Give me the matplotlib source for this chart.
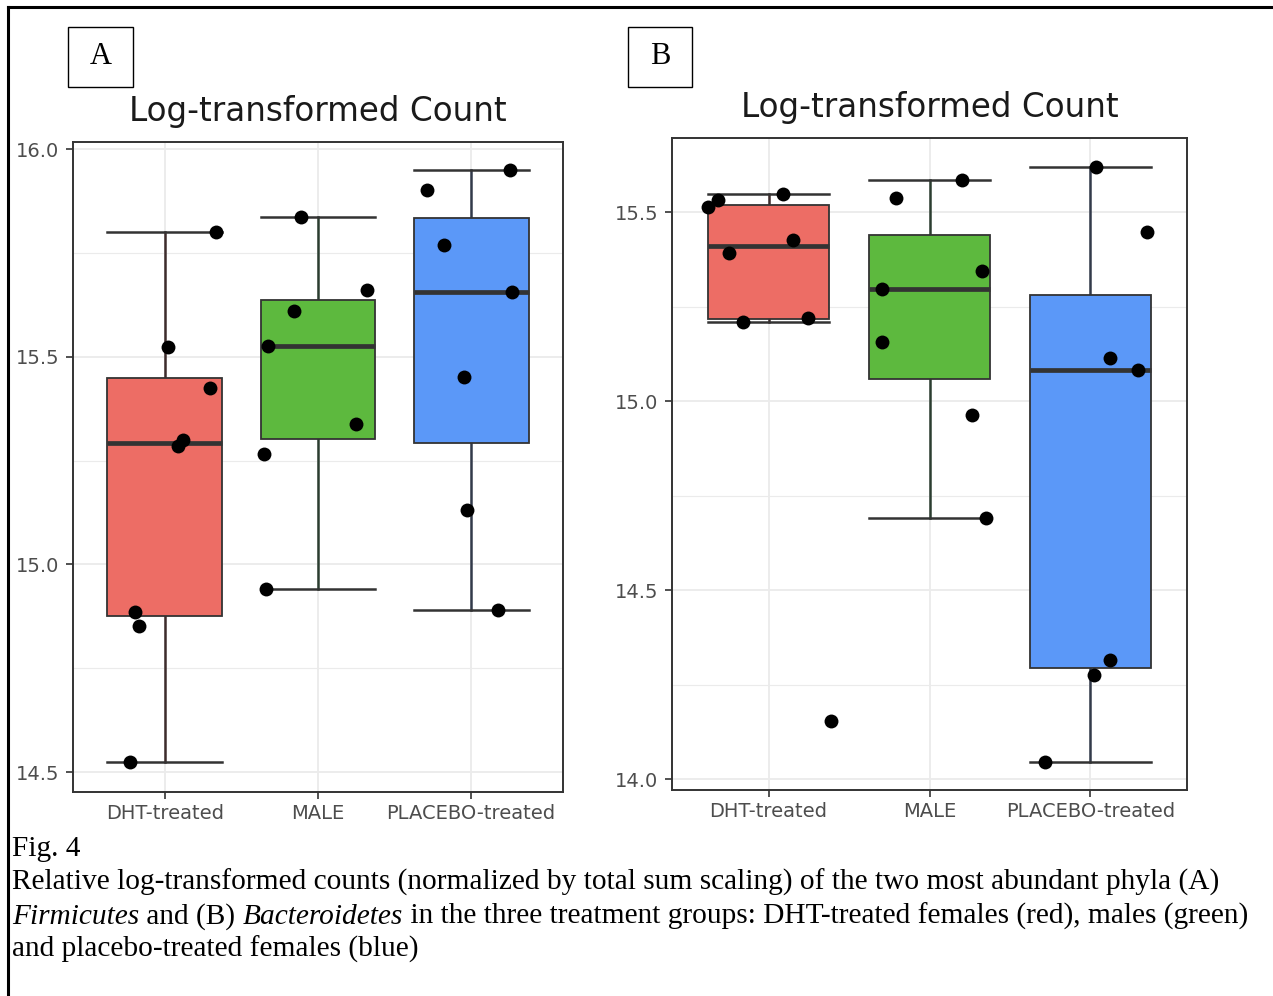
import matplotlib
matplotlib.use("Agg")
import matplotlib.pyplot as plt
from matplotlib.patches import Rectangle
from matplotlib.lines import Line2D

# ---------------- data ----------------
categories = ["DHT-treated", "MALE", "PLACEBO-treated"]

# Panel A (Firmicutes) log-transformed counts
a_dht = [15.80, 15.524, 15.425, 15.30, 15.286, 14.885, 14.851, 14.524]
a_male = [15.837, 15.661, 15.611, 15.526, 15.339, 15.267, 14.94]
a_placebo = [15.95, 15.901, 15.769, 15.656, 15.452, 15.132, 14.889]

# Panel B (Bacteroidetes) log-transformed counts
b_dht = [15.513, 15.532, 15.548, 15.426, 15.392, 15.209, 15.22, 14.153]
b_male = [15.585, 15.537, 15.344, 15.296, 15.156, 14.963, 14.69]
b_placebo = [15.619, 15.447, 15.114, 15.082, 14.315, 14.275, 14.045]

# horizontal jitter of each point (category units)
a_dht_jit = [0.333, 0.02, 0.294, 0.118, 0.085, -0.196, -0.17, -0.229]
a_male_jit = [-0.111, 0.32, -0.157, -0.327, 0.248, -0.353, -0.34]
a_placebo_jit = [0.255, -0.288, -0.176, 0.268, -0.046, -0.026, 0.176]
b_dht_jit = [-0.379, -0.317, 0.087, 0.149, -0.248, -0.161, 0.248, 0.385]
b_male_jit = [0.205, -0.211, 0.329, -0.298, -0.298, 0.261, 0.348]
b_placebo_jit = [0.037, 0.354, 0.124, 0.298, 0.124, 0.025, -0.28]

a_ticks = [14.5, 15.0, 15.5, 16.0]
b_ticks = [14.0, 14.5, 15.0, 15.5]

fills = ["#ED6D65", "#5DB93E", "#5B98F8"]
whisker_cols = ["#3d2c2c", "#2b3d30", "#323a4a"]

W, H = 1273, 996
fig = plt.figure(figsize=(W / 100, H / 100), dpi=100)


def fx(px):
    return px / W


def fy(py):
    return 1 - py / H


def panel(rect, groups, jits, ticks, ylim, title, title_y):
    ax = fig.add_axes(rect)
    pos = [1, 2, 3]
    bp = ax.boxplot(groups, positions=pos, widths=0.75, patch_artist=True,
                    whis=1.5, showfliers=False, capwidths=0.75,
                    medianprops=dict(color="#333333", linewidth=3.4),
                    boxprops=dict(edgecolor="#333333", linewidth=1.3),
                    whiskerprops=dict(linewidth=1.8),
                    capprops=dict(linewidth=1.8))
    for i, patch in enumerate(bp["boxes"]):
        patch.set_facecolor(fills[i])
        patch.set_zorder(2)
    for i in range(3):
        for k in (2 * i, 2 * i + 1):
            bp["whiskers"][k].set_color(whisker_cols[i])
            bp["caps"][k].set_color("#333333")
            bp["whiskers"][k].set_zorder(1.5)
            bp["caps"][k].set_zorder(1.5)
        bp["medians"][i].set_zorder(3)
    for i, (vals, jit) in enumerate(zip(groups, jits)):
        xs = [pos[i] + j for j in jit]
        ax.scatter(xs, vals, s=100, color="black", zorder=4, linewidths=0)
    ax.set_xticks(pos)
    ax.set_xticklabels(categories)
    ax.set_yticks(ticks)
    ax.set_yticklabels([f"{t:.1f}" for t in ticks])
    minors = [(ticks[i] + ticks[i + 1]) / 2 for i in range(len(ticks) - 1)]
    minors.append(ticks[-1] + 0.25)
    minors.insert(0, ticks[0] - 0.25)
    ax.set_yticks(minors, minor=True)
    ax.set_xlim(0.4, 3.6)
    ax.set_ylim(*ylim)
    ax.tick_params(axis="y", which="minor", length=0)
    ax.grid(True, which="major", color="#EBEBEB", linewidth=1.3, zorder=0)
    ax.grid(True, which="minor", axis="y", color="#EBEBEB", linewidth=0.8, zorder=0)
    ax.set_axisbelow(True)
    for s in ax.spines.values():
        s.set_color("#333333")
        s.set_linewidth(1.4)
    ax.tick_params(axis="both", which="major", length=5, width=1.2,
                   color="#333333", labelcolor="#4D4D4D", labelsize=14)
    ax.tick_params(axis="y", which="major", pad=5)
    ax.tick_params(axis="x", which="major", pad=3.5)
    cx = rect[0] + rect[2] / 2
    fig.text(cx, title_y, title, ha="center", va="center", fontsize=23.5,
             color="#1a1a1a")
    return ax


# Panel A
axA = panel([fx(73), fy(792), fx(563) - fx(73), fy(142) - fy(792)],
            [a_dht, a_male, a_placebo],
            [a_dht_jit, a_male_jit, a_placebo_jit],
            a_ticks, (14.452, 16.017), "Log-transformed Count", fy(111))

# Panel B
axB = panel([fx(672), fy(790), fx(1187) - fx(672), fy(138) - fy(790)],
            [b_dht, b_male, b_placebo],
            [b_dht_jit, b_male_jit, b_placebo_jit],
            b_ticks, (13.971, 15.696), "Log-transformed Count", fy(108))

# Panel letters in boxes
for (x0, x1, letter) in [(68, 133, "A"), (628, 692, "B")]:
    fig.patches.append(Rectangle((fx(x0), fy(87)), fx(x1) - fx(x0), fy(27) - fy(87),
                                 transform=fig.transFigure, fill=False,
                                 edgecolor="black", linewidth=1.0))
    fig.text(fx((x0 + x1) / 2), fy(56), letter, ha="center", va="center",
             fontsize=22, family="Liberation Serif", color="black")

# clip of tick labels at left edge (as in reference)
fig.patches.append(Rectangle((fx(10.5), fy(800)), fx(5), fy(130) - fy(800),
                             transform=fig.transFigure, facecolor="white",
                             edgecolor="none", zorder=1))

# outer frame lines (top and left)
fig.add_artist(Line2D([fx(8), 1], [fy(7), fy(7)], transform=fig.transFigure,
                      color="black", linewidth=2.2, zorder=20))
fig.add_artist(Line2D([fx(8), fx(8)], [fy(7), 0], transform=fig.transFigure,
                      color="black", linewidth=2.2, zorder=20))

# caption
cap_fs = 21.2
serif = "Liberation Serif"
renderer = fig.canvas.get_renderer()


def caption_line(y_px, pieces):
    x = fx(12)
    for txt, style in pieces:
        t = fig.text(x, fy(y_px), txt, ha="left", va="baseline",
                     fontsize=cap_fs, family=serif, style=style)
        bb = t.get_window_extent(renderer=renderer)
        x += bb.width / W


caption_line(856, [("Fig. 4", "normal")])
caption_line(890, [("Relative log-transformed counts (normalized by total sum scaling) "
                    "of the two most abundant phyla (A)", "normal")])
caption_line(924, [("Firmicutes", "italic"), (" and (B) ", "normal"),
                   ("Bacteroidetes", "italic"),
                   (" in the three treatment groups: DHT-treated females (red), "
                    "males (green)", "normal")])
caption_line(957, [("and placebo-treated females (blue)", "normal")])

fig.savefig("out.png", dpi=100)
